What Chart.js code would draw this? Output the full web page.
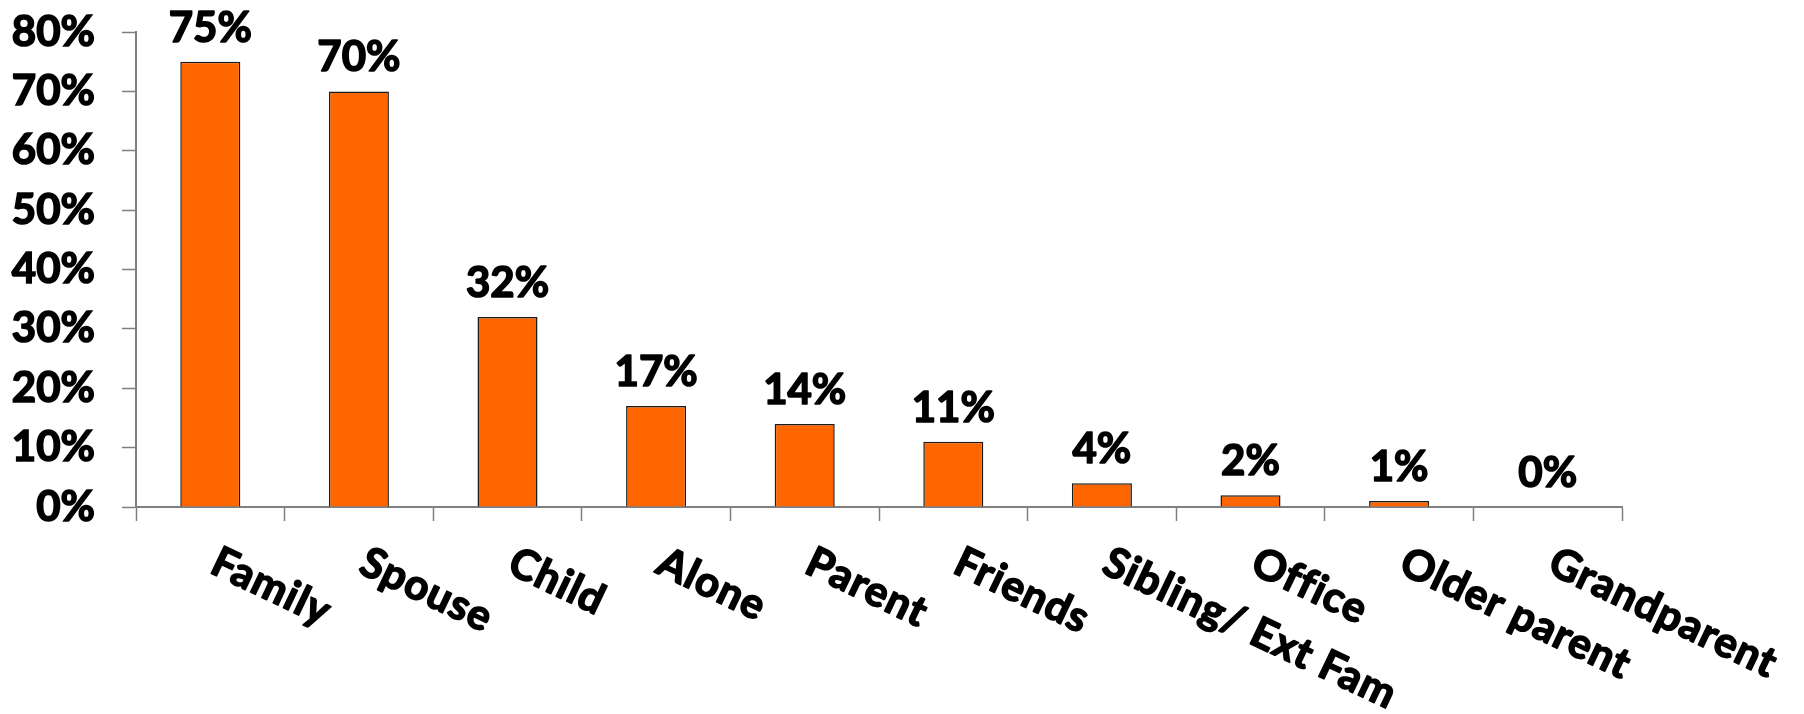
<!DOCTYPE html>
<html>
<head>
<meta charset="utf-8">
<script src="https://cdn.jsdelivr.net/npm/chart.js@4/dist/chart.umd.min.js"></script>
<style>
  html, body { margin: 0; padding: 0; background: #ffffff; }
  #wrap { position: relative; width: 1804px; height: 714px; }
</style>
</head>
<body>
<div id="wrap"><canvas id="chart" width="1804" height="714"></canvas></div>
<script>
// Who people live with (share of respondents, %)
const categories = ['Family', 'Spouse', 'Child', 'Alone', 'Parent', 'Friends',
                    'Sibling/ Ext Fam', 'Office', 'Older parent', 'Grandparent'];
const shares = [75, 70, 32, 17, 14, 11, 4, 2, 1, 0];
const yTicks = [0, 10, 20, 30, 40, 50, 60, 70, 80];

const FONT_FAMILY = 'Lato, "Open Sans", sans-serif';
const BAR_COLOR = '#FF6600';
const AXIS_COLOR = '#7f7f7f';
const TEXT_STROKE = 1.6;   // thickens the bold face a little

function heavyText(ctx, text, x, y) {
  ctx.fillText(text, x, y);
  ctx.strokeText(text, x, y);
}

// Percentage labels above every bar
const valueLabels = {
  id: 'valueLabels',
  afterDatasetsDraw(chart) {
    const ctx = chart.ctx;
    const meta = chart.getDatasetMeta(0);
    ctx.save();
    ctx.font = 'bold 42px ' + FONT_FAMILY;
    ctx.fillStyle = '#000000';
    ctx.strokeStyle = '#000000';
    ctx.lineWidth = TEXT_STROKE;
    ctx.lineJoin = 'round';
    ctx.textAlign = 'center';
    ctx.textBaseline = 'alphabetic';
    meta.data.forEach((bar, i) => {
      heavyText(ctx, shares[i] + '%', bar.x, bar.y - 20);
    });
    ctx.restore();
  }
};

// Slanted category names, starting under each category centre and running down-right
const categoryLabels = {
  id: 'categoryLabels',
  afterDraw(chart) {
    const ctx = chart.ctx;
    const xs = chart.scales.x;
    const angle = 25.5 * Math.PI / 180;
    ctx.save();
    ctx.font = 'bold 42px ' + FONT_FAMILY;
    ctx.fillStyle = '#000000';
    ctx.strokeStyle = '#000000';
    ctx.lineWidth = TEXT_STROKE;
    ctx.lineJoin = 'round';
    ctx.textAlign = 'left';
    ctx.textBaseline = 'alphabetic';
    if ('letterSpacing' in ctx) ctx.letterSpacing = '1px';
    categories.forEach((name, i) => {
      const px = xs.getPixelForValue(i);
      ctx.save();
      ctx.translate(px - 2, chart.chartArea.bottom + 65);
      ctx.rotate(angle);
      heavyText(ctx, name, 0, 0);
      ctx.restore();
    });
    ctx.restore();
  }
};

new Chart(document.getElementById('chart'), {
  type: 'bar',
  data: {
    labels: categories,
    datasets: [{
      data: shares,
      backgroundColor: BAR_COLOR,
      borderColor: '#1a1a1a',
      borderWidth: 1.5,
      borderSkipped: 'start',
      categoryPercentage: 1.0,
      barPercentage: 0.404
    }]
  },
  options: {
    responsive: false,
    animation: false,
    devicePixelRatio: 1,
    layout: { padding: { left: 0, right: 182, top: 32, bottom: 193 } },
    plugins: {
      legend: { display: false },
      tooltip: { enabled: false },
      title: { display: false }
    },
    scales: {
      x: {
        grid: {
          display: true,
          offset: true,
          drawOnChartArea: false,
          drawTicks: true,
          tickLength: 14,
          tickWidth: 1.5,
          tickColor: AXIS_COLOR,
          color: AXIS_COLOR
        },
        border: { display: true, color: AXIS_COLOR, width: 2 },
        ticks: { display: false }
      },
      y: {
        min: 0,
        max: 80,
        afterBuildTicks(scale) {
          scale.ticks = yTicks.map(v => ({ value: v }));
        },
        afterFit(scale) {
          scale.width = 136;
          scale.paddingTop = 0;
          scale.paddingBottom = 0;
        },
        grid: {
          display: true,
          drawOnChartArea: false,
          drawTicks: true,
          tickLength: 14,
          tickWidth: 1.5,
          tickColor: AXIS_COLOR,
          color: AXIS_COLOR
        },
        border: { display: true, color: AXIS_COLOR, width: 2 },
        ticks: {
          padding: 27,
          color: '#000000',
          textStrokeColor: '#000000',
          textStrokeWidth: TEXT_STROKE,
          font: { family: FONT_FAMILY, size: 42, weight: 'bold' },
          callback: (v) => v + '%'
        }
      }
    }
  },
  plugins: [valueLabels, categoryLabels]
});
</script>
</body>
</html>
